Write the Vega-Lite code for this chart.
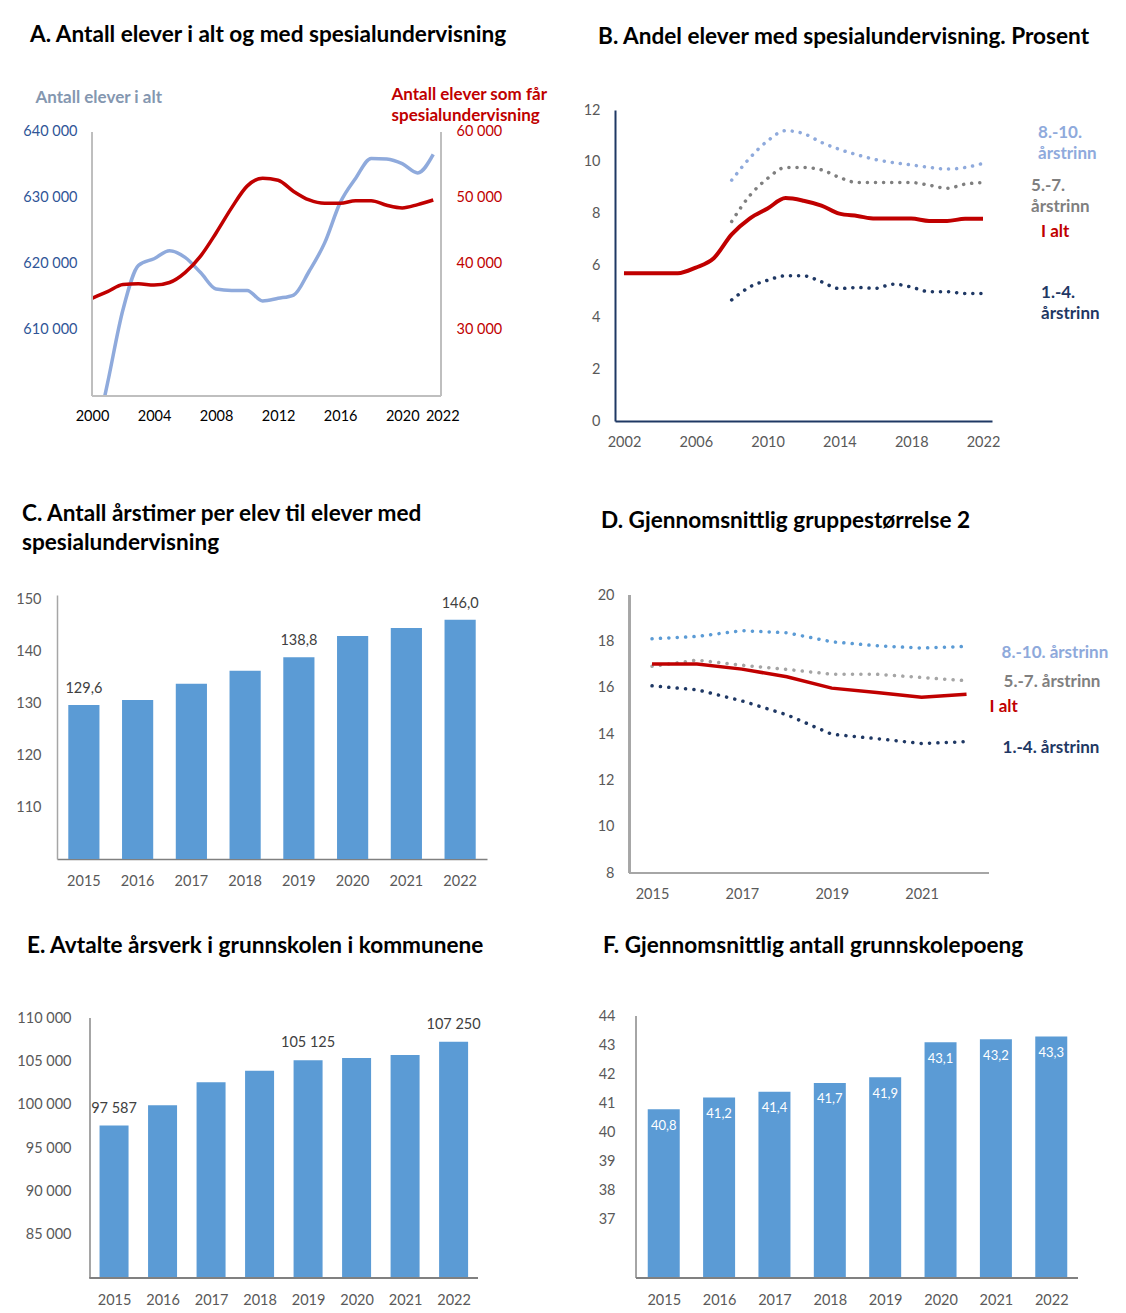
{
"$schema": "https://vega.github.io/schema/vega-lite/v6.json",
"padding": {"left": 15, "top": 24, "right": 5, "bottom": 5},
"background": "white",
"config": {
  "view": {"stroke": null},
  "font": "Lato",
  "locale": {"number": {"decimal": ",", "thousands": " ", "grouping": [3], "currency": ["", " kr"]}},
  "axis": {"labelFont": "Lato", "labelFontSize": 14.5, "labelColor": "#595959", "ticks": false, "grid": false, "domainColor": "#A6A6A6", "domainWidth": 1.5},
  "title": {"anchor": "start", "frame": "group", "font": "Lato", "fontSize": 22.6, "fontWeight": "bold", "color": "#000000", "baseline": "bottom"},
  "text": {"font": "Lato"}
},
"bounds": "flush",
"align": "each",
"spacing": 0,
"columns": 3,
"concat": [
 {
  "width": 384, "height": 286,
  "title": {"text": "A. Antall elever i alt og med spesialundervisning", "offset": 38, "dx": -27},
  "data": {"values": [
    {"year": 2000, "alle": 591000, "spes": 34800},
    {"year": 2001, "alle": 601900, "spes": 35800},
    {"year": 2002, "alle": 613100, "spes": 36900},
    {"year": 2003, "alle": 619800, "spes": 37000},
    {"year": 2004, "alle": 620800, "spes": 36800},
    {"year": 2005, "alle": 622000, "spes": 37200},
    {"year": 2006, "alle": 621000, "spes": 38700},
    {"year": 2007, "alle": 618700, "spes": 41200},
    {"year": 2008, "alle": 616200, "spes": 44700},
    {"year": 2009, "alle": 616000, "spes": 48500},
    {"year": 2010, "alle": 616000, "spes": 51800},
    {"year": 2011, "alle": 614400, "spes": 53000},
    {"year": 2012, "alle": 614800, "spes": 52700},
    {"year": 2013, "alle": 615300, "spes": 51000},
    {"year": 2014, "alle": 618900, "spes": 49700},
    {"year": 2015, "alle": 623200, "spes": 49200},
    {"year": 2016, "alle": 629300, "spes": 49200},
    {"year": 2017, "alle": 633000, "spes": 49600},
    {"year": 2018, "alle": 636000, "spes": 49600},
    {"year": 2019, "alle": 635900, "spes": 48900},
    {"year": 2020, "alle": 635200, "spes": 48500},
    {"year": 2021, "alle": 633800, "spes": 49000},
    {"year": 2022, "alle": 636600, "spes": 49700}
  ]},
  "encoding": {
    "x": {"field": "year", "type": "quantitative", "scale": {"domain": [1997.745, 2022.5], "nice": false, "zero": false},
          "axis": {"values": [2000, 2004, 2008, 2012, 2016, 2020, 2022], "format": "d", "labelOverlap": false, "labelPadding": 13, "labelColor": "#000000", "domain": false, "title": null,
                   "labelOffset": {"condition": {"test": "datum.value == 2022", "value": 9}, "value": 0}}}
  },
  "layer": [
    {"mark": {"type": "line", "color": "#8FAADC", "strokeWidth": 3.5, "clip": true, "interpolate": "monotone"},
     "encoding": {"y": {"field": "alle", "type": "quantitative", "scale": {"domain": [600000, 643333.3], "nice": false, "zero": false},
        "axis": {"orient": "left", "offset": -35, "values": [610000, 620000, 630000, 640000], "format": ",d", "labelColor": "#2F5597", "labelPadding": 15, "domain": false,
                 "title": "Antall elever i alt", "titleColor": "#8497B0", "titleFont": "Lato", "titleFontSize": 17, "titleFontWeight": "bold", "titleAngle": 0, "titleAlign": "left", "titleBaseline": "top", "titleX": -57, "titleY": -20.3}}}},
    {"mark": {"type": "line", "color": "#C00000", "strokeWidth": 3.5, "clip": true, "interpolate": "monotone"},
     "encoding": {"y": {"field": "spes", "type": "quantitative", "scale": {"domain": [20000, 63333.3], "nice": false, "zero": false},
        "axis": {"orient": "right", "values": [30000, 40000, 50000, 60000], "format": ",d", "labelColor": "#C00000", "labelPadding": 15, "domain": false,
                 "title": ["Antall elever som får", "spesialundervisning"], "titleColor": "#C00000", "titleFont": "Lato", "titleFontSize": 17, "titleFontWeight": "bold", "titleAngle": 0, "titleAlign": "left", "titleBaseline": "top", "titleX": -50, "titleY": -24, "titleLineHeight": 21}}}},
    {"mark": {"type": "rule", "color": "#BFBFBF", "strokeWidth": 1.5},
     "encoding": {"x": {"datum": 2000}, "y": {"datum": 600000, "scale": {"domain": [600000, 643333.3], "nice": false, "zero": false}, "axis": null}, "y2": {"datum": 640000}}},
    {"mark": {"type": "rule", "color": "#BFBFBF", "strokeWidth": 1.5},
     "encoding": {"x": {"datum": 2022.5}, "y": {"datum": 600000, "scale": {"domain": [600000, 643333.3], "nice": false, "zero": false}, "axis": null}, "y2": {"datum": 640000}}},
    {"mark": {"type": "rule", "color": "#BFBFBF", "strokeWidth": 1.5},
     "encoding": {"x": {"datum": 2000}, "x2": {"datum": 2022.5}, "y": {"datum": 600000, "scale": {"domain": [600000, 643333.3], "nice": false, "zero": false}, "axis": null}}}
  ],
  "resolve": {"scale": {"y": "independent"}}
 },
 {"width": 128, "height": 1, "data": {"values": []}, "mark": "point"},
 {
  "width": 377, "height": 311,
  "title": {"text": "B. Andel elever med spesialundervisning. Prosent", "offset": 53.2, "dx": -17},
  "data": {"values": [
    {"year": 2002, "serie": "I alt", "value": 5.7},
    {"year": 2003, "serie": "I alt", "value": 5.7},
    {"year": 2004, "serie": "I alt", "value": 5.7},
    {"year": 2005, "serie": "I alt", "value": 5.7},
    {"year": 2006, "serie": "I alt", "value": 5.92},
    {"year": 2007, "serie": "I alt", "value": 6.28},
    {"year": 2008, "serie": "I alt", "value": 7.2},
    {"year": 2009, "serie": "I alt", "value": 7.81},
    {"year": 2010, "serie": "I alt", "value": 8.2},
    {"year": 2011, "serie": "I alt", "value": 8.6},
    {"year": 2012, "serie": "I alt", "value": 8.5},
    {"year": 2013, "serie": "I alt", "value": 8.31},
    {"year": 2014, "serie": "I alt", "value": 8.0},
    {"year": 2015, "serie": "I alt", "value": 7.91},
    {"year": 2016, "serie": "I alt", "value": 7.81},
    {"year": 2017, "serie": "I alt", "value": 7.81},
    {"year": 2018, "serie": "I alt", "value": 7.81},
    {"year": 2019, "serie": "I alt", "value": 7.72},
    {"year": 2020, "serie": "I alt", "value": 7.72},
    {"year": 2021, "serie": "I alt", "value": 7.8},
    {"year": 2022, "serie": "I alt", "value": 7.8},
    {"year": 2008, "serie": "8.-10. årstrinn", "value": 9.29},
    {"year": 2009, "serie": "8.-10. årstrinn", "value": 10.14},
    {"year": 2010, "serie": "8.-10. årstrinn", "value": 10.81},
    {"year": 2011, "serie": "8.-10. årstrinn", "value": 11.2},
    {"year": 2012, "serie": "8.-10. årstrinn", "value": 11.09},
    {"year": 2013, "serie": "8.-10. årstrinn", "value": 10.75},
    {"year": 2014, "serie": "8.-10. årstrinn", "value": 10.48},
    {"year": 2015, "serie": "8.-10. årstrinn", "value": 10.27},
    {"year": 2016, "serie": "8.-10. årstrinn", "value": 10.09},
    {"year": 2017, "serie": "8.-10. årstrinn", "value": 9.97},
    {"year": 2018, "serie": "8.-10. årstrinn", "value": 9.88},
    {"year": 2019, "serie": "8.-10. årstrinn", "value": 9.79},
    {"year": 2020, "serie": "8.-10. årstrinn", "value": 9.72},
    {"year": 2021, "serie": "8.-10. årstrinn", "value": 9.78},
    {"year": 2022, "serie": "8.-10. årstrinn", "value": 9.94},
    {"year": 2008, "serie": "5.-7. årstrinn", "value": 7.7},
    {"year": 2009, "serie": "5.-7. årstrinn", "value": 8.69},
    {"year": 2010, "serie": "5.-7. årstrinn", "value": 9.36},
    {"year": 2011, "serie": "5.-7. årstrinn", "value": 9.78},
    {"year": 2012, "serie": "5.-7. årstrinn", "value": 9.78},
    {"year": 2013, "serie": "5.-7. årstrinn", "value": 9.69},
    {"year": 2014, "serie": "5.-7. årstrinn", "value": 9.4},
    {"year": 2015, "serie": "5.-7. årstrinn", "value": 9.2},
    {"year": 2016, "serie": "5.-7. årstrinn", "value": 9.2},
    {"year": 2017, "serie": "5.-7. årstrinn", "value": 9.2},
    {"year": 2018, "serie": "5.-7. årstrinn", "value": 9.2},
    {"year": 2019, "serie": "5.-7. årstrinn", "value": 9.1},
    {"year": 2020, "serie": "5.-7. årstrinn", "value": 8.98},
    {"year": 2021, "serie": "5.-7. årstrinn", "value": 9.14},
    {"year": 2022, "serie": "5.-7. årstrinn", "value": 9.2},
    {"year": 2008, "serie": "1.-4. årstrinn", "value": 4.67},
    {"year": 2009, "serie": "1.-4. årstrinn", "value": 5.17},
    {"year": 2010, "serie": "1.-4. årstrinn", "value": 5.43},
    {"year": 2011, "serie": "1.-4. årstrinn", "value": 5.6},
    {"year": 2012, "serie": "1.-4. årstrinn", "value": 5.6},
    {"year": 2013, "serie": "1.-4. årstrinn", "value": 5.37},
    {"year": 2014, "serie": "1.-4. årstrinn", "value": 5.11},
    {"year": 2015, "serie": "1.-4. årstrinn", "value": 5.15},
    {"year": 2016, "serie": "1.-4. årstrinn", "value": 5.12},
    {"year": 2017, "serie": "1.-4. årstrinn", "value": 5.28},
    {"year": 2018, "serie": "1.-4. årstrinn", "value": 5.17},
    {"year": 2019, "serie": "1.-4. årstrinn", "value": 4.99},
    {"year": 2020, "serie": "1.-4. årstrinn", "value": 4.99},
    {"year": 2021, "serie": "1.-4. årstrinn", "value": 4.92},
    {"year": 2022, "serie": "1.-4. årstrinn", "value": 4.92}
  ]},
  "encoding": {
    "x": {"field": "year", "type": "quantitative", "scale": {"domain": [2001.5, 2022.5], "nice": false, "zero": false},
          "axis": {"values": [2002, 2006, 2010, 2014, 2018, 2022], "format": "d", "labelPadding": 14, "domainColor": "#1F3864", "domainWidth": 2, "title": null}},
    "y": {"field": "value", "type": "quantitative", "scale": {"domain": [0, 12], "nice": false},
          "axis": {"values": [0, 2, 4, 6, 8, 10, 12], "labelPadding": 15, "domainColor": "#1F3864", "domainWidth": 2, "title": null}}
  },
  "layer": [
    {"transform": [{"filter": {"field": "serie", "equal": "8.-10. årstrinn"}}], "mark": {"type": "line", "color": "#8FAADC", "strokeWidth": 3.5, "strokeDash": [0.1, 8], "strokeCap": "round", "interpolate": "monotone"}},
    {"transform": [{"filter": {"field": "serie", "equal": "5.-7. årstrinn"}}], "mark": {"type": "line", "color": "#7F7F7F", "strokeWidth": 3.5, "strokeDash": [0.1, 8], "strokeCap": "round", "interpolate": "monotone"}},
    {"transform": [{"filter": {"field": "serie", "equal": "1.-4. årstrinn"}}], "mark": {"type": "line", "color": "#1F3864", "strokeWidth": 3.5, "strokeDash": [0.1, 8], "strokeCap": "round", "interpolate": "monotone"}},
    {"transform": [{"filter": {"field": "serie", "equal": "I alt"}}], "mark": {"type": "line", "color": "#C00000", "strokeWidth": 4, "interpolate": "monotone"}},
    {"transform": [{"filter": {"field": "serie", "equal": "8.-10. årstrinn"}}, {"filter": "datum.year == 2022"}], "mark": {"type": "text", "text": ["8.-10.", "årstrinn"], "align": "left", "baseline": "top", "dx": 55, "dy": -38.6, "lineHeight": 21, "color": "#8FAADC", "fontWeight": "bold", "fontSize": 17}},
    {"transform": [{"filter": {"field": "serie", "equal": "5.-7. årstrinn"}}, {"filter": "datum.year == 2022"}], "mark": {"type": "text", "text": ["5.-7.", "årstrinn"], "align": "left", "baseline": "top", "dx": 48, "dy": -4.7, "lineHeight": 21, "color": "#7F7F7F", "fontWeight": "bold", "fontSize": 17}},
    {"transform": [{"filter": {"field": "serie", "equal": "I alt"}}, {"filter": "datum.year == 2022"}], "mark": {"type": "text", "text": "I alt", "align": "left", "baseline": "middle", "dx": 58, "dy": 13, "color": "#C00000", "fontWeight": "bold", "fontSize": 17}},
    {"transform": [{"filter": {"field": "serie", "equal": "1.-4. årstrinn"}}, {"filter": "datum.year == 2022"}], "mark": {"type": "text", "text": ["1.-4.", "årstrinn"], "align": "left", "baseline": "top", "dx": 58, "dy": -8.7, "lineHeight": 21, "color": "#1F3864", "fontWeight": "bold", "fontSize": 17}}
  ]
 },

 {"width": 1, "height": 174, "data": {"values": []}, "mark": "point"},
 {"width": 1, "height": 1, "data": {"values": []}, "mark": "point"},
 {"width": 1, "height": 1, "data": {"values": []}, "mark": "point"},

 {
  "width": 430, "height": 264,
  "title": {"text": ["C. Antall årstimer per elev til elever med", "spesialundervisning"], "offset": 36.2, "dx": -35, "lineHeight": 29},
  "data": {"values": [
    {"year": "2015", "value": 129.6},
    {"year": "2016", "value": 130.6},
    {"year": "2017", "value": 133.7},
    {"year": "2018", "value": 136.2},
    {"year": "2019", "value": 138.8},
    {"year": "2020", "value": 142.9},
    {"year": "2021", "value": 144.4},
    {"year": "2022", "value": 146.0}
  ]},
  "encoding": {
    "x": {"field": "year", "type": "ordinal", "scale": {"paddingInner": 0.42, "paddingOuter": 0.21}, "axis": {"labelAngle": 0, "labelPadding": 15, "domainColor": "#808080", "title": null}},
    "y": {"field": "value", "type": "quantitative", "scale": {"domain": [100, 150.77], "nice": false, "zero": false}, "axis": {"values": [110, 120, 130, 140, 150], "labelPadding": 16, "title": null}}
  },
  "layer": [
    {"mark": {"type": "bar", "color": "#5B9BD5", "clip": true}},
    {"transform": [{"filter": {"field": "year", "oneOf": ["2015", "2019", "2022"]}}], "mark": {"type": "text", "baseline": "middle", "dy": -16, "color": "#404040", "fontSize": 14.5}, "encoding": {"text": {"field": "value", "type": "quantitative", "format": ".1f"}}}
  ]
 },
 {"width": 128, "height": 1, "data": {"values": []}, "mark": "point"},
 {
  "width": 374, "height": 278,
  "title": {"text": "D. Gjennomsnittlig gruppestørrelse 2", "offset": 54.2, "dx": -14},
  "data": {"values": [
    {"year": 2015, "serie": "8.-10. årstrinn", "value": 18.11},
    {"year": 2016, "serie": "8.-10. årstrinn", "value": 18.21},
    {"year": 2017, "serie": "8.-10. årstrinn", "value": 18.46},
    {"year": 2018, "serie": "8.-10. årstrinn", "value": 18.37},
    {"year": 2019, "serie": "8.-10. årstrinn", "value": 17.98},
    {"year": 2020, "serie": "8.-10. årstrinn", "value": 17.81},
    {"year": 2021, "serie": "8.-10. årstrinn", "value": 17.71},
    {"year": 2022, "serie": "8.-10. årstrinn", "value": 17.78},
    {"year": 2015, "serie": "5.-7. årstrinn", "value": 16.92},
    {"year": 2016, "serie": "5.-7. årstrinn", "value": 17.19},
    {"year": 2017, "serie": "5.-7. årstrinn", "value": 16.97},
    {"year": 2018, "serie": "5.-7. årstrinn", "value": 16.79},
    {"year": 2019, "serie": "5.-7. årstrinn", "value": 16.58},
    {"year": 2020, "serie": "5.-7. årstrinn", "value": 16.58},
    {"year": 2021, "serie": "5.-7. årstrinn", "value": 16.44},
    {"year": 2022, "serie": "5.-7. årstrinn", "value": 16.3},
    {"year": 2015, "serie": "I alt", "value": 17.02},
    {"year": 2016, "serie": "I alt", "value": 17.02},
    {"year": 2017, "serie": "I alt", "value": 16.8},
    {"year": 2018, "serie": "I alt", "value": 16.47},
    {"year": 2019, "serie": "I alt", "value": 15.98},
    {"year": 2020, "serie": "I alt", "value": 15.79},
    {"year": 2021, "serie": "I alt", "value": 15.59},
    {"year": 2022, "serie": "I alt", "value": 15.72},
    {"year": 2015, "serie": "1.-4. årstrinn", "value": 16.08},
    {"year": 2016, "serie": "1.-4. årstrinn", "value": 15.91},
    {"year": 2017, "serie": "1.-4. årstrinn", "value": 15.43},
    {"year": 2018, "serie": "1.-4. årstrinn", "value": 14.83},
    {"year": 2019, "serie": "1.-4. årstrinn", "value": 13.99},
    {"year": 2020, "serie": "1.-4. årstrinn", "value": 13.8},
    {"year": 2021, "serie": "1.-4. årstrinn", "value": 13.59},
    {"year": 2022, "serie": "1.-4. årstrinn", "value": 13.67}
  ]},
  "encoding": {
    "x": {"field": "year", "type": "quantitative", "scale": {"domain": [2014.176, 2022.5], "nice": false, "zero": false},
          "axis": {"values": [2015, 2017, 2019, 2021], "format": "d", "labelPadding": 14, "domain": false, "title": null}},
    "y": {"field": "value", "type": "quantitative", "scale": {"domain": [8, 20], "nice": false, "zero": false},
          "axis": {"values": [8, 10, 12, 14, 16, 18, 20], "offset": -15, "labelPadding": 16, "domain": false, "title": null}}
  },
  "layer": [
    {"mark": {"type": "rule", "color": "#A6A6A6", "strokeWidth": 1.5}, "encoding": {"x": {"datum": 2014.5}, "y": {"datum": 8}, "y2": {"datum": 20}}},
    {"mark": {"type": "rule", "color": "#A6A6A6", "strokeWidth": 1.5}, "encoding": {"x": {"datum": 2014.5}, "x2": {"datum": 2022.5}, "y": {"datum": 8}}},
    {"transform": [{"filter": {"field": "serie", "equal": "8.-10. årstrinn"}}], "mark": {"type": "line", "color": "#5B9BD5", "strokeWidth": 3.5, "strokeDash": [0.1, 8.3], "strokeCap": "round"}},
    {"transform": [{"filter": {"field": "serie", "equal": "5.-7. årstrinn"}}], "mark": {"type": "line", "color": "#A5A5A5", "strokeWidth": 3.5, "strokeDash": [0.1, 8.3], "strokeCap": "round"}},
    {"transform": [{"filter": {"field": "serie", "equal": "1.-4. årstrinn"}}], "mark": {"type": "line", "color": "#1F3864", "strokeWidth": 3.5, "strokeDash": [0.1, 8.3], "strokeCap": "round"}},
    {"transform": [{"filter": {"field": "serie", "equal": "I alt"}}], "mark": {"type": "line", "color": "#C00000", "strokeWidth": 3.5}},
    {"transform": [{"filter": {"field": "serie", "equal": "8.-10. årstrinn"}}, {"filter": "datum.year == 2022"}], "mark": {"type": "text", "text": "8.-10. årstrinn", "align": "left", "baseline": "middle", "dx": 35, "dy": 6.3, "color": "#8EA9DB", "fontWeight": "bold", "fontSize": 17}},
    {"transform": [{"filter": {"field": "serie", "equal": "5.-7. årstrinn"}}, {"filter": "datum.year == 2022"}], "mark": {"type": "text", "text": "5.-7. årstrinn", "align": "left", "baseline": "middle", "dx": 37, "dy": 1, "color": "#808080", "fontWeight": "bold", "fontSize": 17}},
    {"transform": [{"filter": {"field": "serie", "equal": "I alt"}}, {"filter": "datum.year == 2022"}], "mark": {"type": "text", "text": "I alt", "align": "left", "baseline": "middle", "dx": 23, "dy": 12.7, "color": "#C00000", "fontWeight": "bold", "fontSize": 17}},
    {"transform": [{"filter": {"field": "serie", "equal": "1.-4. årstrinn"}}, {"filter": "datum.year == 2022"}], "mark": {"type": "text", "text": "1.-4. årstrinn", "align": "left", "baseline": "middle", "dx": 36, "dy": 6, "color": "#1F3864", "fontWeight": "bold", "fontSize": 17}}
  ]
 },

 {"width": 1, "height": 143, "data": {"values": []}, "mark": "point"},
 {"width": 1, "height": 1, "data": {"values": []}, "mark": "point"},
 {"width": 1, "height": 1, "data": {"values": []}, "mark": "point"},

 {
  "width": 426, "height": 262,
  "title": {"text": "E. Avtalte årsverk i grunnskolen i kommunene", "offset": 52.2, "dx": -30},
  "data": {"values": [
    {"year": 2015, "value": 97587},
    {"year": 2016, "value": 99920},
    {"year": 2017, "value": 102580},
    {"year": 2018, "value": 103920},
    {"year": 2019, "value": 105125},
    {"year": 2020, "value": 105380},
    {"year": 2021, "value": 105730},
    {"year": 2022, "value": 107250}
  ]},
  "encoding": {
    "x": {"field": "year", "type": "quantitative", "scale": {"domain": [2013.927, 2022.503], "nice": false, "zero": false},
          "axis": {"values": [2015, 2016, 2017, 2018, 2019, 2020, 2021, 2022], "format": "d", "labelPadding": 15, "domain": false, "title": null}},
    "y": {"field": "value", "type": "quantitative", "scale": {"domain": [80000, 110231], "nice": false, "zero": false},
          "axis": {"values": [85000, 90000, 95000, 100000, 105000, 110000], "format": ",d", "offset": -29, "labelPadding": 15, "domain": false, "title": null}}
  },
  "layer": [
    {"mark": {"type": "bar", "color": "#5B9BD5", "clip": true, "orient": "vertical", "width": 29}},
    {"mark": {"type": "rule", "color": "#A6A6A6", "strokeWidth": 1.5}, "encoding": {"x": {"datum": 2014.5}, "y": {"datum": 80000}, "y2": {"datum": 110000}}},
    {"mark": {"type": "rule", "color": "#808080", "strokeWidth": 1.5}, "encoding": {"x": {"datum": 2014.5}, "x2": {"datum": 2022.503}, "y": {"datum": 80000}}},
    {"transform": [{"filter": {"field": "year", "oneOf": [2015, 2019, 2022]}}], "mark": {"type": "text", "baseline": "middle", "dy": -17, "color": "#404040", "fontSize": 14.5}, "encoding": {"text": {"field": "value", "type": "quantitative", "format": ",d"}}}
  ]
 },
 {"width": 128, "height": 1, "data": {"values": []}, "mark": "point"},
 {
  "width": 468, "height": 262,
  "title": {"text": "F. Gjennomsnittlig antall grunnskolepoeng", "offset": 50.2, "dx": -12},
  "data": {"values": [
    {"year": 2015, "value": 40.8},
    {"year": 2016, "value": 41.2},
    {"year": 2017, "value": 41.4},
    {"year": 2018, "value": 41.7},
    {"year": 2019, "value": 41.9},
    {"year": 2020, "value": 43.1},
    {"year": 2021, "value": 43.2},
    {"year": 2022, "value": 43.3}
  ]},
  "encoding": {
    "x": {"field": "year", "type": "quantitative", "scale": {"domain": [2014.21, 2022.483], "nice": false, "zero": false},
          "axis": {"values": [2015, 2016, 2017, 2018, 2019, 2020, 2021, 2022], "format": "d", "labelPadding": 15, "domain": false, "title": null}},
    "y": {"field": "value", "type": "quantitative", "scale": {"domain": [35, 44], "nice": false, "zero": false},
          "axis": {"values": [37, 38, 39, 40, 41, 42, 43, 44], "offset": -16, "labelPadding": 16, "domain": false, "title": null}}
  },
  "layer": [
    {"mark": {"type": "bar", "color": "#5B9BD5", "clip": true, "orient": "vertical", "width": 32}},
    {"mark": {"type": "rule", "color": "#A6A6A6", "strokeWidth": 1.5}, "encoding": {"x": {"datum": 2014.5}, "y": {"datum": 35}, "y2": {"datum": 44}}},
    {"mark": {"type": "rule", "color": "#808080", "strokeWidth": 1.5}, "encoding": {"x": {"datum": 2014.5}, "x2": {"datum": 2022.483}, "y": {"datum": 35}}},
    {"mark": {"type": "text", "baseline": "middle", "dy": 16.5, "color": "#FFFFFF", "fontSize": 13}, "encoding": {"text": {"field": "value", "type": "quantitative", "format": ".1f"}}}
  ]
 }
]
}
